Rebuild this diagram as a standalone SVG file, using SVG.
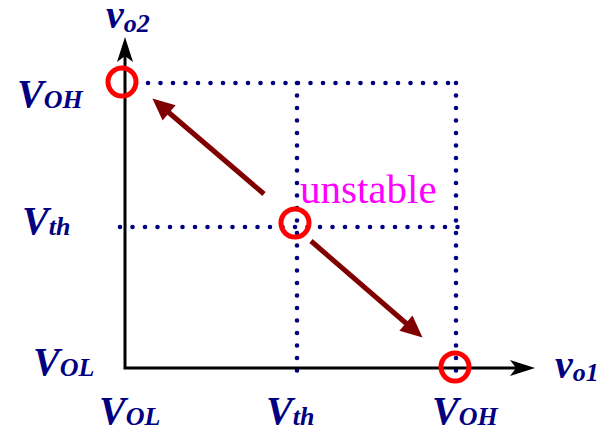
<svg xmlns="http://www.w3.org/2000/svg" width="601" height="432" viewBox="0 0 601 432">
<style>
.lbl{font-family:"Liberation Serif","Times New Roman",serif;font-weight:bold;font-style:italic;font-size:40px;fill:#000080}
.sub{font-size:26px}
.dot{fill:none;stroke:#000080;stroke-width:4.6;stroke-linecap:round;stroke-dasharray:0 12.5}
.ring{fill:none;stroke:#ff0000;stroke-width:5}
.axis{fill:none;stroke:#000;stroke-width:3}
.arr{fill:none;stroke:#800000;stroke-width:5}
</style>
<defs>
<marker id="ax" markerUnits="userSpaceOnUse" orient="auto-start-reverse" markerWidth="40" markerHeight="40" refX="0" refY="0" viewBox="-20 -20 40 40" overflow="visible">
<path d="M15,0 L-10,-8 L-4,0 L-10,8 z" fill="#000"/>
</marker>
<marker id="ar" markerUnits="userSpaceOnUse" orient="auto" markerWidth="40" markerHeight="40" refX="0" refY="0" viewBox="-20 -20 40 40" overflow="visible">
<path d="M10,0 L-12,-10 L-12,10 z" fill="#800000"/>
</marker>
</defs>
<g id="grid">
<line class="dot" x1="148" y1="83" x2="456" y2="83"/>
<line class="dot" x1="297" y1="83" x2="297" y2="378"/>
<line class="dot" x1="456" y1="83" x2="456" y2="378"/>
<line class="dot" x1="120" y1="227" x2="458" y2="227"/>
</g>
<g id="connectors">
<path id="axes" class="axis" d="M125,52 L125,368 L520,368" marker-start="url(#ax)" marker-end="url(#ax)"/>
<line id="arrow-up" class="arr" x1="264" y1="194" x2="160" y2="105" marker-end="url(#ar)"/>
<line id="arrow-down" class="arr" x1="311" y1="241" x2="415" y2="331" marker-end="url(#ar)"/>
</g>
<g id="p-voh"><circle class="ring" cx="122" cy="82" r="14"/></g>
<g id="p-vth"><circle class="ring" cx="295" cy="223" r="14"/></g>
<g id="p-vol"><circle class="ring" cx="455" cy="367" r="14"/></g>
<g id="labels">
<text class="lbl" x="106" y="28">v<tspan class="sub" dy="4">o2</tspan></text>
<text class="lbl" x="555" y="378">v<tspan class="sub" dy="3">o1</tspan></text>
<text class="lbl" x="17" y="107">V<tspan class="sub" dy="1">OH</tspan></text>
<text class="lbl" x="22" y="234">V<tspan class="sub" dy="1">th</tspan></text>
<text class="lbl" x="33" y="375">V<tspan class="sub" dy="1">OL</tspan></text>
<text class="lbl" x="99" y="424">V<tspan class="sub" dy="1">OL</tspan></text>
<text class="lbl" x="266" y="424">V<tspan class="sub" dy="1">th</tspan></text>
<text class="lbl" x="432" y="424">V<tspan class="sub" dy="1">OH</tspan></text>
<text x="300" y="203" font-family="Liberation Serif, Times New Roman, serif" font-size="41" fill="#ff00ff">unstable</text>
</g>
</svg>
